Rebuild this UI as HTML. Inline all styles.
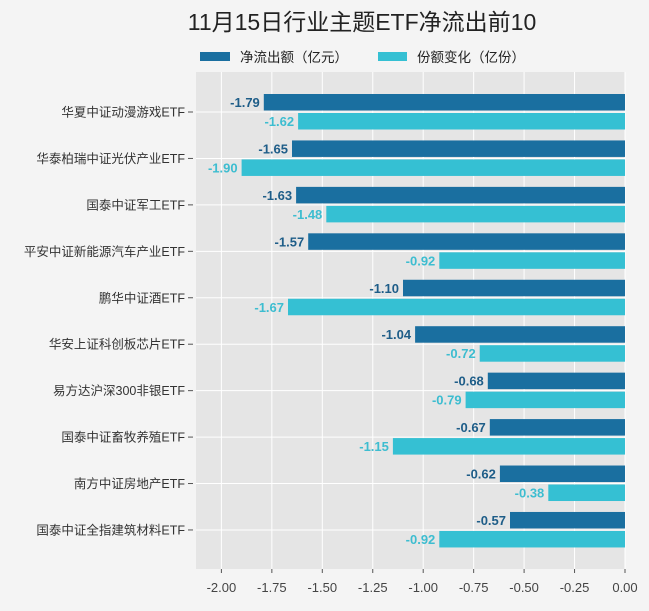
<!DOCTYPE html><html><head><meta charset="utf-8"><style>
body{margin:0;background:#f4f4f4;}
svg text{font-family:"Liberation Sans","Noto Sans CJK SC",sans-serif;}
</style></head><body>
<svg width="649" height="606" xmlns="http://www.w3.org/2000/svg">
<rect width="649" height="606" fill="#f4f4f4"/>
<text x="362" y="30" font-size="23" text-anchor="middle" fill="#222">11月15日行业主题ETF净流出前10</text>
<rect x="200" y="52" width="30" height="9" fill="#1a6fa0"/>
<text x="240" y="62" font-size="13.5" fill="#222">净流出额（亿元）</text>
<rect x="378" y="52" width="29" height="9" fill="#35c0d3"/>
<text x="417" y="62" font-size="13.5" fill="#222">份额变化（亿份）</text>
<rect x="196" y="72" width="429" height="497" fill="#e5e5e5"/>
<g stroke="#fff" stroke-width="1">
<line x1="625" y1="72" x2="625" y2="569"/><line x1="574.55" y1="72" x2="574.55" y2="569"/><line x1="524.1" y1="72" x2="524.1" y2="569"/><line x1="473.65" y1="72" x2="473.65" y2="569"/><line x1="423.2" y1="72" x2="423.2" y2="569"/><line x1="372.75" y1="72" x2="372.75" y2="569"/><line x1="322.3" y1="72" x2="322.3" y2="569"/><line x1="271.85" y1="72" x2="271.85" y2="569"/><line x1="221.4" y1="72" x2="221.4" y2="569"/>
<line x1="196" y1="112" x2="625" y2="112"/><line x1="196" y1="158.44" x2="625" y2="158.44"/><line x1="196" y1="204.88" x2="625" y2="204.88"/><line x1="196" y1="251.32" x2="625" y2="251.32"/><line x1="196" y1="297.76" x2="625" y2="297.76"/><line x1="196" y1="344.2" x2="625" y2="344.2"/><line x1="196" y1="390.64" x2="625" y2="390.64"/><line x1="196" y1="437.08" x2="625" y2="437.08"/><line x1="196" y1="483.52" x2="625" y2="483.52"/><line x1="196" y1="529.96" x2="625" y2="529.96"/>
</g>
<g stroke="#555">
<line x1="625" y1="569" x2="625" y2="573"/><line x1="574.55" y1="569" x2="574.55" y2="573"/><line x1="524.1" y1="569" x2="524.1" y2="573"/><line x1="473.65" y1="569" x2="473.65" y2="573"/><line x1="423.2" y1="569" x2="423.2" y2="573"/><line x1="372.75" y1="569" x2="372.75" y2="573"/><line x1="322.3" y1="569" x2="322.3" y2="573"/><line x1="271.85" y1="569" x2="271.85" y2="573"/><line x1="221.4" y1="569" x2="221.4" y2="573"/>
<line x1="188" y1="112" x2="193" y2="112"/><line x1="188" y1="158.44" x2="193" y2="158.44"/><line x1="188" y1="204.88" x2="193" y2="204.88"/><line x1="188" y1="251.32" x2="193" y2="251.32"/><line x1="188" y1="297.76" x2="193" y2="297.76"/><line x1="188" y1="344.2" x2="193" y2="344.2"/><line x1="188" y1="390.64" x2="193" y2="390.64"/><line x1="188" y1="437.08" x2="193" y2="437.08"/><line x1="188" y1="483.52" x2="193" y2="483.52"/><line x1="188" y1="529.96" x2="193" y2="529.96"/>
</g>
<g font-size="13" fill="#444" text-anchor="middle">
<text x="625" y="592">0.00</text><text x="574.55" y="592">-0.25</text><text x="524.1" y="592">-0.50</text><text x="473.65" y="592">-0.75</text><text x="423.2" y="592">-1.00</text><text x="372.75" y="592">-1.25</text><text x="322.3" y="592">-1.50</text><text x="271.85" y="592">-1.75</text><text x="221.4" y="592">-2.00</text>
</g>
<g font-size="12.5" fill="#333" text-anchor="end">
<text x="185" y="116.5">华夏中证动漫游戏ETF</text>
<text x="185" y="162.9">华泰柏瑞中证光伏产业ETF</text>
<text x="185" y="209.4">国泰中证军工ETF</text>
<text x="185" y="255.8">平安中证新能源汽车产业ETF</text>
<text x="185" y="302.3">鹏华中证酒ETF</text>
<text x="185" y="348.7">华安上证科创板芯片ETF</text>
<text x="185" y="395.1">易方达沪深300非银ETF</text>
<text x="185" y="441.6">国泰中证畜牧养殖ETF</text>
<text x="185" y="488">南方中证房地产ETF</text>
<text x="185" y="534.5">国泰中证全指建筑材料ETF</text>
</g>
<g fill="#1a6fa0">
<rect x="263.8" y="94" width="361.2" height="16.5"/>
<rect x="292" y="140.44" width="333" height="16.5"/>
<rect x="296.1" y="186.88" width="328.9" height="16.5"/>
<rect x="308.2" y="233.32" width="316.8" height="16.5"/>
<rect x="403" y="279.76" width="222" height="16.5"/>
<rect x="415.1" y="326.2" width="209.9" height="16.5"/>
<rect x="487.8" y="372.64" width="137.2" height="16.5"/>
<rect x="489.8" y="419.08" width="135.2" height="16.5"/>
<rect x="499.9" y="465.52" width="125.1" height="16.5"/>
<rect x="510" y="511.96" width="115" height="16.5"/>
</g>
<g fill="#35c0d3">
<rect x="298.1" y="113" width="326.9" height="16.5"/>
<rect x="241.6" y="159.44" width="383.4" height="16.5"/>
<rect x="326.3" y="205.88" width="298.7" height="16.5"/>
<rect x="439.3" y="252.32" width="185.7" height="16.5"/>
<rect x="288" y="298.76" width="337" height="16.5"/>
<rect x="479.7" y="345.2" width="145.3" height="16.5"/>
<rect x="465.6" y="391.64" width="159.4" height="16.5"/>
<rect x="392.9" y="438.08" width="232.1" height="16.5"/>
<rect x="548.3" y="484.52" width="76.7" height="16.5"/>
<rect x="439.3" y="530.96" width="185.7" height="16.5"/>
</g>
<g font-size="13" font-weight="bold" fill="#1e5d88" text-anchor="end">
<text x="259.8" y="107">-1.79</text>
<text x="288" y="153.4">-1.65</text>
<text x="292.1" y="199.9">-1.63</text>
<text x="304.2" y="246.3">-1.57</text>
<text x="399" y="292.8">-1.10</text>
<text x="411.1" y="339.2">-1.04</text>
<text x="483.8" y="385.6">-0.68</text>
<text x="485.8" y="432.1">-0.67</text>
<text x="495.9" y="478.5">-0.62</text>
<text x="506" y="525">-0.57</text>
</g>
<g font-size="13" font-weight="bold" fill="#3dbdd0" text-anchor="end">
<text x="294.1" y="126">-1.62</text>
<text x="237.6" y="172.4">-1.90</text>
<text x="322.3" y="218.9">-1.48</text>
<text x="435.3" y="265.3">-0.92</text>
<text x="284" y="311.8">-1.67</text>
<text x="475.7" y="358.2">-0.72</text>
<text x="461.6" y="404.6">-0.79</text>
<text x="388.9" y="451.1">-1.15</text>
<text x="544.3" y="497.5">-0.38</text>
<text x="435.3" y="544">-0.92</text>
</g>
</svg></body></html>
